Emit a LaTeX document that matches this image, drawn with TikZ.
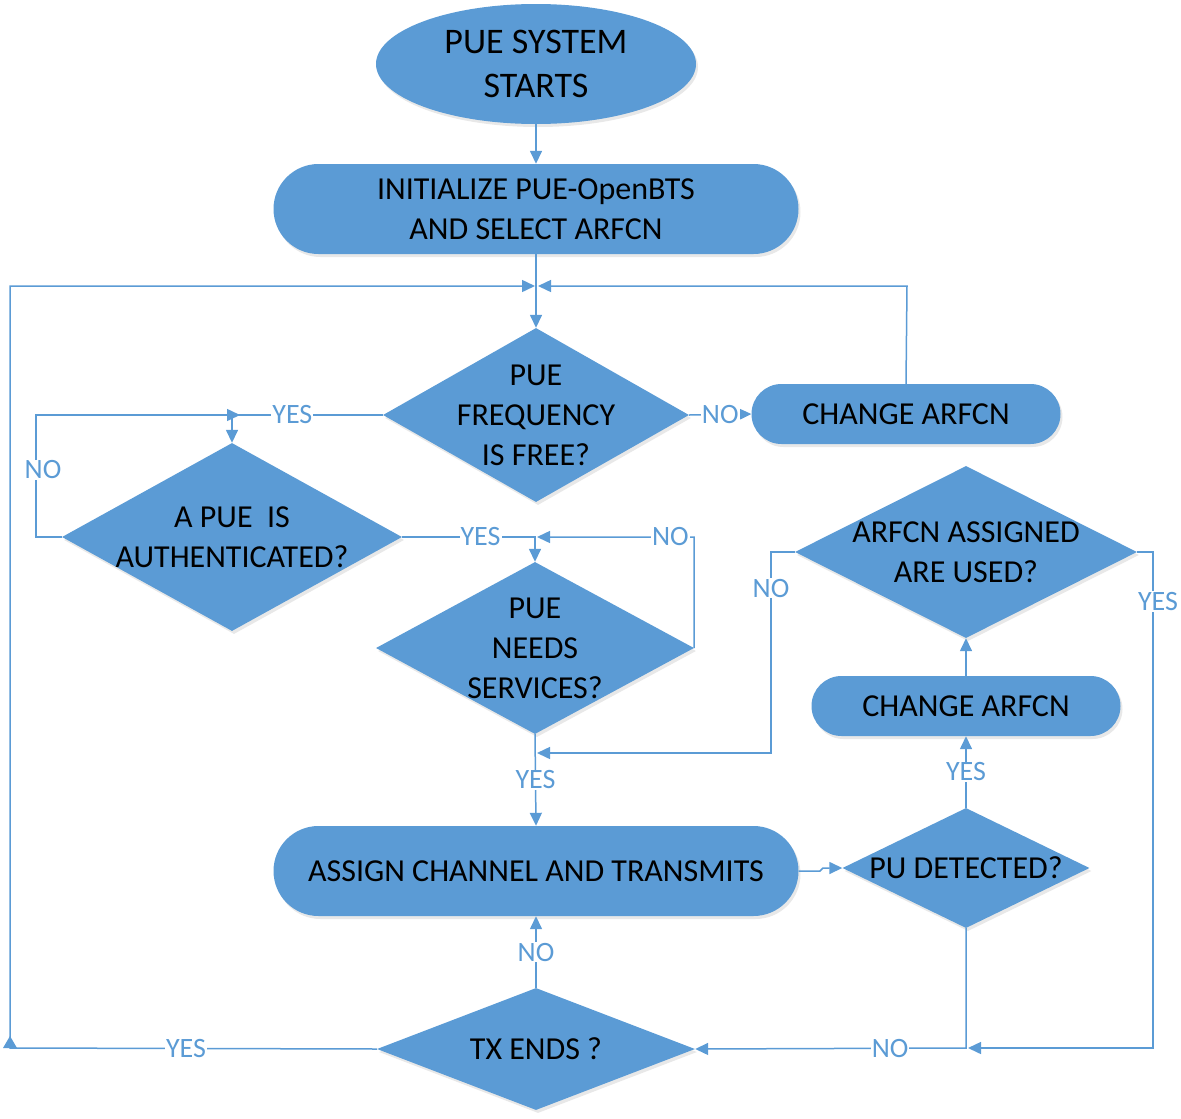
\documentclass[tikz,border=0pt]{standalone}
\usepackage{fontspec}
\setmainfont{Carlito}
\usetikzlibrary{shapes.geometric,arrows.meta,shadows}
\definecolor{fc}{HTML}{5B9BD5}
\definecolor{lc}{HTML}{5B9BD5}
\begin{document}
\begin{tikzpicture}[x=1pt,y=-1pt,
  shp/.style={fill=fc, draw=none, inner sep=0pt, drop shadow={opacity=0.18,shadow xshift=2pt,shadow yshift=-3pt}},
  dia/.style={shp, diamond},
  pill/.style={shp, rectangle, rounded corners=#1},
  ntxt/.style={font=\fontsize{32}{40}\selectfont, align=center, text=black},
  every label/.style={font=\fontsize{32}{40}\selectfont, align=center, inner sep=0pt, text=black},
  con/.style={draw=lc, line width=1.5pt},
  arr/.style={con, -{Triangle[length=13pt,width=12pt]}},
  lbl/.style={fill=white, text=lc, font=\fontsize{28}{30}\selectfont, inner sep=1pt}
]
\useasboundingbox (0,0) rectangle (1181,1119);

% nodes
\node (start) [shp, ellipse, minimum width=320pt, minimum height=120pt,
  label={[font=\fontsize{36}{44}\selectfont]center:PUE SYSTEM\\STARTS}] at (536,64) {};
\node (init) [pill=45pt, minimum width=525pt, minimum height=90pt, ntxt] at (536,209)
  {INITIALIZE PUE-OpenBTS\\AND SELECT ARFCN};
\node (d1) [dia, minimum width=306pt, minimum height=174pt,
  label={center:PUE\\FREQUENCY\\IS FREE?}] at (536,415) {};
\node (chg1) [pill=30pt, minimum width=309pt, minimum height=60pt, ntxt] at (906,414) {CHANGE ARFCN};
\node (d2) [dia, minimum width=340pt, minimum height=188pt,
  label={center:A PUE\ \ IS\\AUTHENTICATED?}] at (232,537) {};
\node (d3) [dia, minimum width=318pt, minimum height=172pt,
  label={center:PUE\\NEEDS\\SERVICES?}] at (535,648) {};
\node (d4) [dia, minimum width=342pt, minimum height=172pt,
  label={center:ARFCN ASSIGNED\\ARE USED?}] at (966,552) {};
\node (chg2) [pill=30pt, minimum width=309pt, minimum height=60pt, ntxt] at (966,706) {CHANGE ARFCN};
\node (assign) [pill=45pt, minimum width=525pt, minimum height=90pt, ntxt] at (536,871)
  {ASSIGN CHANNEL AND TRANSMITS};
\node (d5) [dia, minimum width=247pt, minimum height=120pt,
  label={center:PU DETECTED?}] at (966,868) {};
\node (d6) [dia, minimum width=318pt, minimum height=122pt,
  label={center:TX ENDS ?}] at (536,1049) {};

% junction coordinates
\coordinate (jl) at (535,286);
\coordinate (jr) at (538,286);
\coordinate (cl) at (10,286);
\coordinate (cb) at (10,1048);
\coordinate (cr) at (907,286);
\coordinate (ya) at (240,415);
\coordinate (lb) at (36,537);
\coordinate (lt) at (36,415);
\coordinate (nb) at (537,537);
\coordinate (nr) at (694,537);
\coordinate (ma) at (771,552);
\coordinate (mb) at (771,753);
\coordinate (mc) at (537,753);
\coordinate (ra) at (1153,552);
\coordinate (rb) at (1153,1048);
\coordinate (rc) at (968,1048);
\coordinate (pb) at (966,1048);

% connectors
\draw[arr] (start.south) -- (init.north);
\draw[arr] (init.south) -- (d1.north);
\draw[arr] (d1.east) -- node[lbl]{NO} (chg1.west);
\draw[arr] (chg1.north) -- (cr) -- (jr);
\draw[arr] (d6.west) -- node[lbl,pos=0.52]{YES} (cb) -- (cl) -- (jl);
\fill[lc] (cb) ++(-7,0) -- ++(14,0) -- ++(-7,-12) -- cycle;
\draw[arr] (d1.west) -- node[lbl,pos=0.6]{YES} (d2.north |- d1.west) -- (d2.north);
\draw[arr] (d2.west) -- (lb) -- node[lbl,pos=0.55,xshift=7pt]{NO} (lt) -- (ya);
\draw[arr] (d2.east) -- node[lbl,pos=0.59]{YES} (d3.north |- d2.east) -- (d3.north);
\draw[arr] (d3.east) -- (nr) -- node[lbl,pos=0.15]{NO} (nb);
\draw[arr] (d3.south) -- node[lbl]{YES} (assign.north);
\draw[arr] (d4.west) -- (ma) -- node[lbl,pos=0.18]{NO} (mb) -- (mc);
\draw[arr] (d4.east) -- (ra) -- node[lbl,pos=0.1,xshift=5pt]{YES} (rb) -- (rc);
\draw[arr] (chg2.north) -- (d4.south);
\draw[arr] (d5.north) -- node[lbl]{YES} (chg2.south);
\draw[arr] (assign.east) -- (820,871) -- (823,868) -- (d5.west);
\draw[arr] (d5.south) -- (pb) -- node[lbl,pos=0.28]{NO} (d6.east);
\draw[arr] (d6.north) -- node[lbl]{NO} (assign.south);
\end{tikzpicture}
\end{document}
